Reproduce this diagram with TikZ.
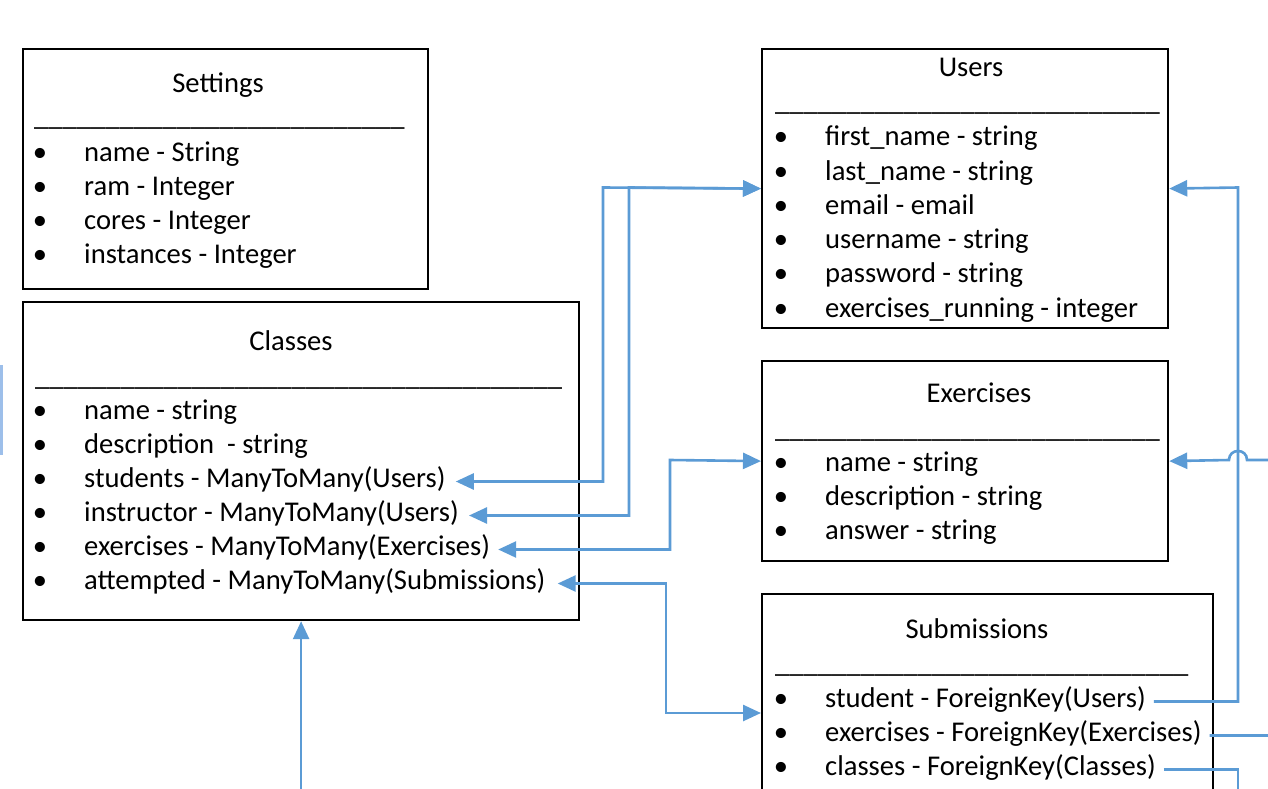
\documentclass[tikz,border=0pt]{standalone}
\usepackage{fontspec}
\setmainfont{Carlito}
\usetikzlibrary{arrows.meta}
\definecolor{lnk}{HTML}{5B9BD5}
\definecolor{edgeblue}{HTML}{9DBFEA}
\ExplSyntaxOn
\NewDocumentCommand\ulrow{m}{\prg_replicate:nn{#1}{\_}}
\ExplSyntaxOff
\begin{document}
\begin{tikzpicture}[x=1pt,y=-1pt,
  box/.style={draw=black, line width=2.2pt, fill=white, inner sep=0pt, anchor=north west},
  txt/.style={font=\fontsize{28.6}{34}\selectfont, inner sep=0pt, text height=16pt, text depth=5pt},
  row/.style={txt, anchor=base west},
  ttl/.style={txt, anchor=base},
  bul/.style={txt, anchor=base},
  conn/.style={draw=lnk, line width=2.6pt},
  Tri/.tip={Triangle[length=18pt,width=16pt]}
]
\useasboundingbox (0,0) rectangle (1268,789);
\clip (0,0) rectangle (1268,789);
\fill[white] (0,0) rectangle (1268,789);
\fill[edgeblue] (0,365) rectangle (2.5,455);

% ---------- boxes ----------
\node[box, minimum width=405pt, minimum height=240pt] (settings) at (22,48) {};
\node[box, minimum width=556pt, minimum height=318pt] (classes) at (22,301) {};
\node[box, minimum width=406pt, minimum height=279pt] (users) at (761,48) {};
\node[box, minimum width=406pt, minimum height=200pt] (exercises) at (761,360) {};
\node[box, minimum width=451pt, minimum height=240pt] (submissions) at (761,593) {};

% ---------- Settings ----------
\node[ttl] (setT) at (218,93) {Settings};
\node[row] (setU) at (34,125) {\ulrow{26}};
\foreach \t [count=\k] in {name - String, ram - Integer, cores - Integer, instances - Integer}{
  \node[bul] (setB\k) at (40,{161+34*(\k-1)}) {•};
  \node[row] (set\k) at (84,{161+34*(\k-1)}) {\t};
}

% ---------- Classes ----------
\node[ttl] (claT) at (291,350) {Classes};
\node[row] (claU) at (35,385) {\ulrow{37}};
\foreach \t [count=\k] in {name - string, description~ - string, students - ManyToMany(Users), instructor - ManyToMany(Users), exercises - ManyToMany(Exercises), attempted - ManyToMany(Submissions)}{
  \node[bul] (claB\k) at (40,{419+34*(\k-1)}) {•};
  \node[row] (cla\k) at (84,{419+34*(\k-1)}) {\t};
}

% ---------- Users ----------
\node[ttl] (useT) at (971,77) {Users};
\node[row] (useU) at (775,111) {\ulrow{27}};
\foreach \t [count=\k] in {first\_name - string, last\_name - string, email - email, username - string, password - string, exercises\_running - integer}{
  \node[bul] (useB\k) at (781,{146+34.2*(\k-1)}) {•};
  \node[row] (use\k) at (825,{146+34.2*(\k-1)}) {\t};
}

% ---------- Exercises ----------
\node[ttl] (exeT) at (979,402) {Exercises};
\node[row] (exeU) at (775,437) {\ulrow{27}};
\foreach \t [count=\k] in {name - string, description - string, answer - string}{
  \node[bul] (exeB\k) at (781,{471+34*(\k-1)}) {•};
  \node[row] (exe\k) at (825,{471+34*(\k-1)}) {\t};
}

% ---------- Submissions ----------
\node[ttl] (subT) at (977,638) {Submissions};
\node[row] (subU) at (775,672) {\ulrow{29}};
\foreach \t [count=\k] in {student - ForeignKey(Users), exercises - ForeignKey(Exercises), classes - ForeignKey(Classes)}{
  \node[bul] (subB\k) at (781,{707+34*(\k-1)}) {•};
  \node[row] (sub\k) at (825,{707+34*(\k-1)}) {\t};
}

% ---------- connectors ----------
\draw[conn, Tri-Tri] ([xshift=10pt]cla3.east) -| (603,187.5) -- (users.west);
\draw[conn, Tri-Tri] ([xshift=10pt]cla4.east) -| (629,187.5) -- (users.west);
\draw[conn, Tri-Tri] ([xshift=8pt]cla5.east) -| (670,460) -- (exercises.west);
\draw[conn, Tri-Tri] ([xshift=12pt]cla6.east) -| (666,713) -- (submissions.west |- 0,713);
\draw[conn, -Tri] ([xshift=8pt]sub1.east) -| (1238,187.5) -- (users.east);
\draw[conn, -Tri] ([xshift=8pt]sub2.east) -| (1290,460) -- (1247,460)
   .. controls (1247,448) and (1229,448) .. (1229,460) -- (exercises.east);
\draw[conn, -Tri] ([xshift=8pt]sub3.east) -| (1238,830) -| (classes.south);
\end{tikzpicture}
\end{document}
